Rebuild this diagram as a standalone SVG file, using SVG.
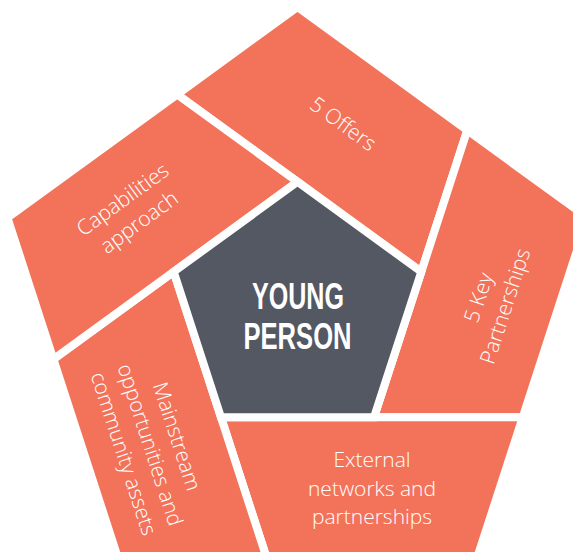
<svg xmlns="http://www.w3.org/2000/svg" width="573" height="552" viewBox="0 0 573 552">
  <style>
    .seg { fill: #F3735A; stroke: #FFFFFF; stroke-width: 8; stroke-linejoin: miter; stroke-miterlimit: 10; }
    .core { fill: #535862; stroke: #FFFFFF; stroke-width: 8; stroke-linejoin: miter; stroke-miterlimit: 10; }
    .lbl { font-family: "Open Sans", "Liberation Sans", sans-serif; font-weight: 300; font-size: 21px; fill: #FFFFFF; text-anchor: middle; }
    .title { font-family: "Liberation Sans Narrow", "Liberation Sans", sans-serif; font-weight: 700; font-size: 36px; fill: #FFFFFF; text-anchor: middle; }
  </style>
  <rect width="573" height="552" fill="#FFFFFF"/>

  <!-- outer ring: five segments arranged as a pinwheel around the centre pentagon -->
  <g id="offers">
    <polygon class="seg" points="297.5,7 467.27,130.35 421.33,271.77 297.5,181.8 177.2,94.4"/>
    <text class="lbl" transform="translate(343,124) rotate(36)" y="7">5 Offers</text>
  </g>

  <g id="key-partnerships">
    <polygon class="seg" points="467.27,130.35 587.57,217.75 522.72,417.33 374.03,417.33 421.33,271.77"/>
    <g transform="translate(492,302) rotate(-72)">
      <text class="lbl" y="-7">5 Key</text>
      <text class="lbl" y="21">Partnerships</text>
    </g>
  </g>

  <g id="external-networks">
    <polygon class="seg" points="522.72,417.33 476.78,558.75 266.92,558.75 220.97,417.33 374.03,417.33"/>
    <text class="lbl" x="372" y="467">External</text>
    <text class="lbl" x="372" y="495.5">networks and</text>
    <text class="lbl" x="372" y="524">partnerships</text>
  </g>

  <g id="mainstream">
    <polygon class="seg" points="266.92,558.75 118.22,558.75 53.38,359.17 173.67,271.77 220.97,417.33"/>
    <g transform="translate(150,445) rotate(72)">
      <text class="lbl" y="-21">Mainstream</text>
      <text class="lbl" y="7">opportunities and</text>
      <text class="lbl" y="35">community assets</text>
    </g>
  </g>

  <g id="capabilities">
    <polygon class="seg" points="53.38,359.17 7.43,217.75 177.2,94.4 297.5,181.8 173.67,271.77"/>
    <g transform="translate(131,211) rotate(-36)">
      <text class="lbl" y="-7">Capabilities</text>
      <text class="lbl" y="21">approach</text>
    </g>
  </g>

  <!-- centre pentagon -->
  <g id="young-person">
    <polygon class="core" points="297.5,181.8 421.33,271.77 374.03,417.33 220.97,417.33 173.67,271.77"/>
    <text class="title" x="298" y="309" textLength="92" lengthAdjust="spacingAndGlyphs">YOUNG</text>
    <text class="title" x="297.5" y="349" textLength="108" lengthAdjust="spacingAndGlyphs">PERSON</text>
  </g>
</svg>
